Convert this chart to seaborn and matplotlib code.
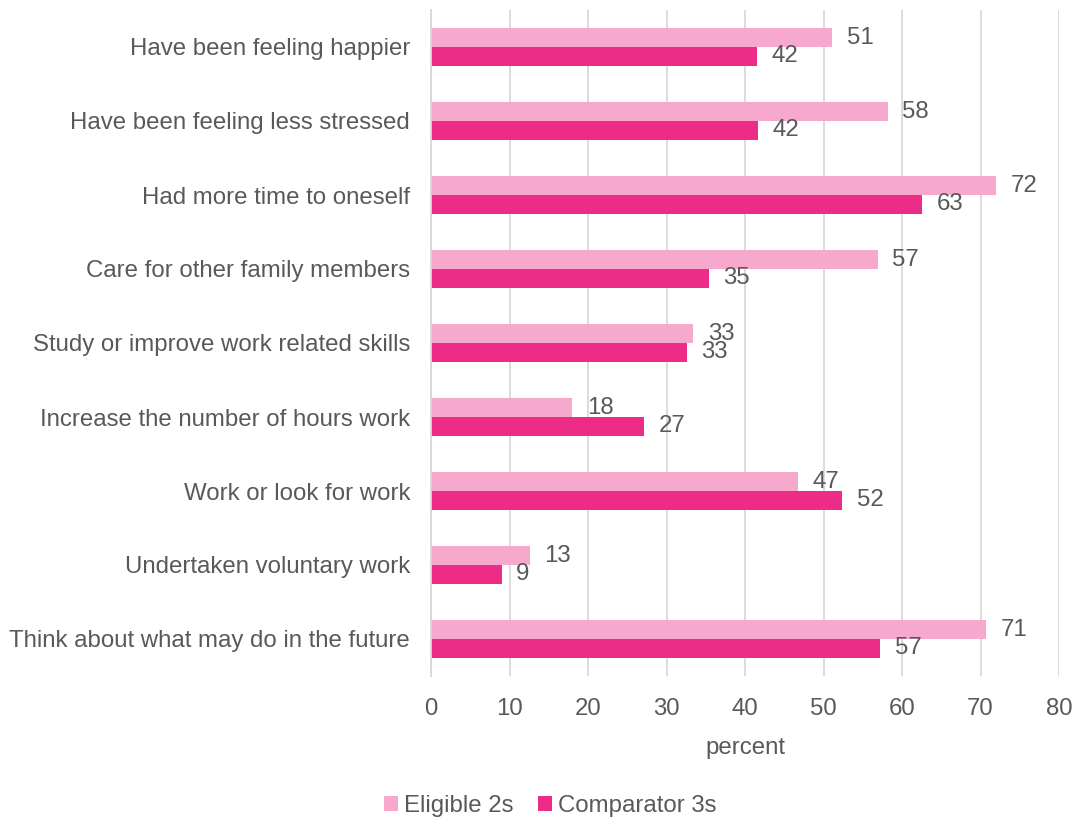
import matplotlib
matplotlib.use("Agg")
import matplotlib.pyplot as plt
import seaborn as sns
import pandas as pd

categories = [
    "Have been feeling happier",
    "Have been feeling less stressed",
    "Had more time to oneself",
    "Care for other family members",
    "Study or improve work related skills",
    "Increase the number of hours work",
    "Work or look for work",
    "Undertaken voluntary work",
    "Think about what may do in the future",
]
eligible_2s = [51.1, 58.2, 72.0, 56.9, 33.4, 18.0, 46.8, 12.6, 70.7]
comparator_3s = [41.5, 41.7, 62.6, 35.4, 32.6, 27.1, 52.4, 9.0, 57.2]
series_names = ["Eligible 2s", "Comparator 3s"]
x_ticks = [0, 10, 20, 30, 40, 50, 60, 70, 80]

colors = ["#F6A9CD", "#EC2C87"]
text_grey = "#595959"
grid_grey = "#D9D9D9"
fs = 17.3

df = pd.DataFrame({
    "category": categories * 2,
    "value": eligible_2s + comparator_3s,
    "series": [series_names[0]] * len(categories) + [series_names[1]] * len(categories),
})

sns.set_theme(style="white")
plt.rcParams["font.family"] = ["Liberation Sans", "DejaVu Sans"]

fig = plt.figure(figsize=(10.76, 8.25), dpi=100)
ax = fig.add_axes([431 / 1076, 1 - 676 / 825, (1059 - 431) / 1076, (676 - 10) / 825])

sns.barplot(
    data=df, y="category", x="value", hue="series", orient="h",
    palette=colors, width=0.51, ax=ax, saturation=1, legend=True,
    order=categories, hue_order=series_names, linewidth=0,
)

for container in ax.containers:
    labels = [f"{v:.0f}" for v in container.datavalues]
    ax.bar_label(container, labels=labels, padding=10.5, fontsize=fs, color=text_grey)

ax.set_xlim(0, 80)
ax.set_xticks(x_ticks)
ax.set_xticklabels([str(t) for t in x_ticks])
ax.xaxis.grid(True, color=grid_grey, linewidth=1.3)
ax.set_axisbelow(True)
for side in ["top", "right", "bottom"]:
    ax.spines[side].set_visible(False)
ax.spines["left"].set_color(grid_grey)
ax.spines["left"].set_linewidth(1.3)

ax.tick_params(axis="x", length=0, pad=16, labelsize=fs, labelcolor=text_grey)
ax.tick_params(axis="y", length=0, pad=15, labelsize=fs, labelcolor=text_grey)
ax.set_ylabel("")
ax.set_xlabel("percent", fontsize=fs, color=text_grey, labelpad=12)

handles, labels = ax.get_legend_handles_labels()
ax.get_legend().remove()
fig.legend(
    handles, labels, loc="center", bbox_to_anchor=(550 / 1076, 1 - 806 / 825),
    ncol=2, frameon=False, fontsize=fs, labelcolor=text_grey,
    handlelength=0.6, handleheight=0.6, handletextpad=0.25, columnspacing=1.0,
)

fig.savefig("out.png", dpi=100)
